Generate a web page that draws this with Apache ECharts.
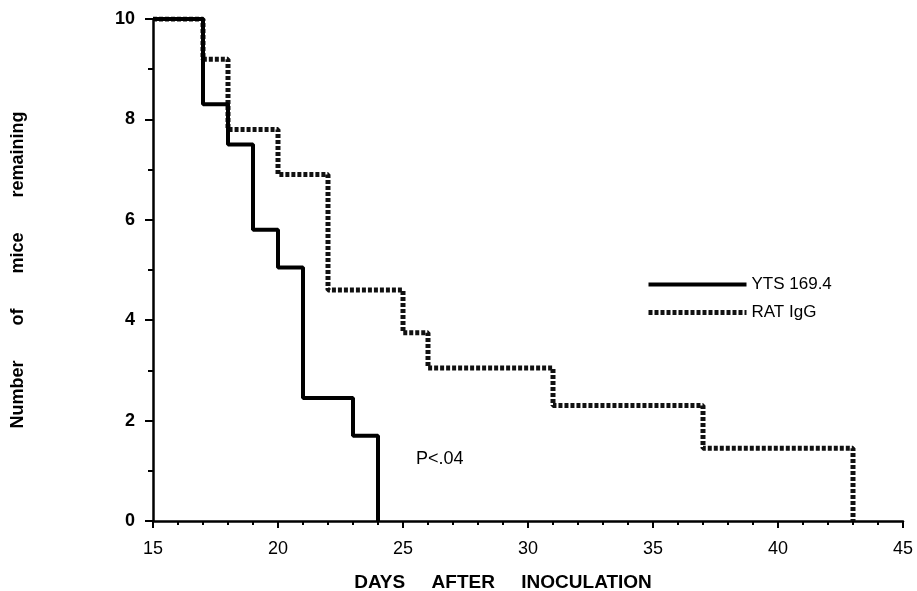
<!DOCTYPE html>
<html>
<head>
<meta charset="utf-8">
<script src="https://cdn.jsdelivr.net/npm/echarts@6/dist/echarts.min.js"></script>
<style>html,body{margin:0;padding:0;background:#fff;}#c{width:917px;height:591px;}</style>
</head>
<body>
<div id="c"></div>
<script>
// Days (x) and number of mice remaining (y) at each step of the survival curves
const ytsDays   = [15, 17, 18, 19, 20, 21, 23, 24];
const ytsMice   = [10, 8.3, 7.5, 5.8, 5.05, 2.45, 1.7, 0];
const ratDays   = [15, 17, 18, 20, 22, 25, 26, 31, 37, 43];
const ratMice   = [10, 9.2, 7.8, 6.9, 4.6, 3.75, 3.05, 2.3, 1.45, 0];
const seriesNames = ['YTS 169.4', 'RAT IgG'];
const xTicks = [15, 20, 25, 30, 35, 40, 45];
const yTicks = [0, 2, 4, 6, 8, 10];
const annotation = 'P<.04';

const zip = (xs, ys) => xs.map((x, i) => [x, ys[i]]);
const FONT = '"Liberation Sans", Arial, Helvetica, sans-serif';
const ratLine = {color: '#111', width: 5, type: [4, 2]};
const ytsLine = {color: '#000', width: 4};

const chart = echarts.init(document.getElementById('c'), null, {renderer: 'canvas'});
chart.setOption({
  backgroundColor: '#ffffff',
  animation: false,
  grid: {left: 153, right: 14, top: 19, bottom: 70, containLabel: false, outerBoundsMode: 'none'},
  legend: {
    orient: 'vertical', left: 646, top: 276, padding: 0, itemWidth: 98, itemHeight: 14, itemGap: 11,
    itemStyle: {opacity: 0},
    textStyle: {fontFamily: FONT, fontSize: 17, color: '#000'},
    data: [
      {name: seriesNames[0], lineStyle: ytsLine},
      {name: seriesNames[1], lineStyle: ratLine}
    ]
  },
  xAxis: {
    type: 'value', min: xTicks[0], max: xTicks[xTicks.length - 1], interval: 5,
    name: 'DAYS     AFTER     INOCULATION', nameLocation: 'middle', nameGap: 52,
    nameTextStyle: {fontFamily: FONT, fontSize: 19, fontWeight: 'bold', color: '#000', padding: [0, 50, 0, 0]},
    axisLine: {lineStyle: {color: '#000', width: 2.5}},
    axisTick: {show: true, inside: false, length: 7, lineStyle: {color: '#000', width: 2}},
    minorTick: {show: true, splitNumber: 5, length: 4, lineStyle: {color: '#000', width: 2}},
    splitLine: {show: false},
    axisLabel: {margin: 19, fontFamily: FONT, fontSize: 18, color: '#000', formatter: v => xTicks.includes(v) ? String(v) : ''}
  },
  yAxis: {
    type: 'value', min: yTicks[0], max: yTicks[yTicks.length - 1], interval: 2,
    name: 'Number       of       mice       remaining', nameLocation: 'middle', nameRotate: 90, nameGap: 126,
    nameTextStyle: {fontFamily: FONT, fontSize: 18, fontWeight: 'bold', color: '#000'},
    axisLine: {show: true, lineStyle: {color: '#000', width: 2.5}},
    axisTick: {show: true, inside: false, length: 8, lineStyle: {color: '#000', width: 2}},
    minorTick: {show: true, splitNumber: 2, length: 5, lineStyle: {color: '#000', width: 2}},
    splitLine: {show: false},
    axisLabel: {margin: 18, fontFamily: FONT, fontSize: 18, fontWeight: 'bold', color: '#000', formatter: v => yTicks.includes(v) ? String(v) : ''}
  },
  series: [
    {
      name: seriesNames[1], type: 'line', step: 'end', symbol: 'none', z: 2,
      data: zip(ratDays, ratMice),
      itemStyle: {color: '#000'},
      lineStyle: ratLine
    },
    {
      name: seriesNames[0], type: 'line', step: 'end', symbol: 'none', z: 3,
      data: zip(ytsDays, ytsMice),
      itemStyle: {color: '#000'},
      lineStyle: ytsLine
    }
  ],
  graphic: [
    {type: 'text', left: 416, top: 450, style: {text: annotation, font: '18px ' + FONT, fill: '#000'}}
  ]
});
</script>
</body>
</html>
